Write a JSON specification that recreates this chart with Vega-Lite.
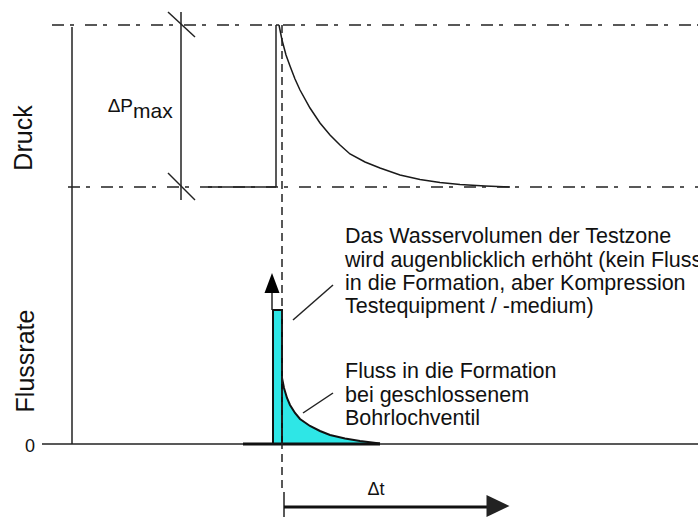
{
  "$schema": "https://vega.github.io/schema/vega-lite/v6.json",
  "width": 698,
  "height": 517,
  "padding": 0,
  "autosize": {"type": "none"},
  "background": "white",
  "config": {"view": {"stroke": null}},
  "datasets": {
    "solid": [
      {"x": 72, "y": 27, "x2": 72, "y2": 444},
      {"x": 42, "y": 444, "x2": 698, "y2": 444},
      {"x": 181, "y": 12, "x2": 181, "y2": 200},
      {"x": 168, "y": 12, "x2": 195, "y2": 37},
      {"x": 168, "y": 173, "x2": 195, "y2": 200},
      {"x": 208, "y": 187, "x2": 276, "y2": 187},
      {"x": 276, "y": 187, "x2": 276, "y2": 25},
      {"x": 276, "y": 25, "x2": 279, "y2": 25},
      {"x": 272, "y": 292, "x2": 272, "y2": 310},
      {"x": 293, "y": 320, "x2": 333, "y2": 285},
      {"x": 303, "y": 413, "x2": 333, "y2": 393},
      {"x": 284, "y": 492, "x2": 284, "y2": 517}
    ],
    "thick": [
      {"x": 243, "y": 444, "x2": 380, "y2": 444},
      {"x": 284, "y": 507, "x2": 490, "y2": 507}
    ],
    "dashdot": [
      {"x": 52, "y": 25, "x2": 698, "y2": 25},
      {"x": 68, "y": 187, "x2": 698, "y2": 187}
    ],
    "dashed": [
      {"x": 282, "y": 25, "x2": 282, "y2": 488}
    ],
    "pressure": [
      {"x": 279, "y": 25}, {"x": 282, "y": 40}, {"x": 286, "y": 55}, {"x": 290, "y": 66},
      {"x": 295, "y": 79}, {"x": 300, "y": 90}, {"x": 310, "y": 108}, {"x": 320, "y": 123},
      {"x": 330, "y": 135}, {"x": 340, "y": 145}, {"x": 350, "y": 154}, {"x": 365, "y": 162},
      {"x": 380, "y": 168}, {"x": 400, "y": 175}, {"x": 420, "y": 179.5}, {"x": 440, "y": 182.5},
      {"x": 460, "y": 184.5}, {"x": 485, "y": 186}, {"x": 510, "y": 187}
    ],
    "flow": [
      {"x": 282, "y": 378}, {"x": 284, "y": 388}, {"x": 287, "y": 398}, {"x": 290, "y": 405},
      {"x": 295, "y": 413}, {"x": 300, "y": 419}, {"x": 310, "y": 426}, {"x": 320, "y": 431},
      {"x": 330, "y": 435}, {"x": 345, "y": 438.5}, {"x": 360, "y": 441}, {"x": 380, "y": 443.5}
    ],
    "bar": [{"x": 273, "x2": 282, "y": 310, "y2": 444}],
    "arrowUp": [{"x": 272, "y": 283}],
    "arrowRight": [{"x": 498, "y": 506}],
    "notes": [
      {"x": 345, "y": 243, "text": "Das Wasservolumen der Testzone"},
      {"x": 345, "y": 266.5, "text": "wird augenblicklich erhöht (kein Fluss"},
      {"x": 345, "y": 290, "text": "in die Formation, aber Kompression"},
      {"x": 345, "y": 313, "text": "Testequipment / -medium)"},
      {"x": 345, "y": 378, "text": "Fluss in die Formation"},
      {"x": 345, "y": 402, "text": "bei geschlossenem"},
      {"x": 345, "y": 425, "text": "Bohrlochventil"}
    ],
    "axisTitles": [
      {"x": 24, "y": 138, "text": "Druck"},
      {"x": 26, "y": 361, "text": "Flussrate"}
    ],
    "small": [
      {"x": 30, "y": 452, "text": "0"},
      {"x": 376, "y": 495, "text": "Δt"}
    ],
    "dp": [{"x": 133, "y": 112, "text": "ΔP"}],
    "max": [{"x": 133, "y": 118, "text": "max"}]
  },
  "encoding": {
    "x": {"field": "x", "type": "quantitative", "scale": {"domain": [0, 698], "nice": false, "zero": false}, "axis": null},
    "y": {"field": "y", "type": "quantitative", "scale": {"domain": [0, 517], "reverse": true, "nice": false, "zero": false}, "axis": null}
  },
  "layer": [
    {
      "data": {"name": "flow"},
      "mark": {"type": "area", "color": "#2ee6e6", "opacity": 1},
      "encoding": {"y2": {"datum": 444}}
    },
    {
      "data": {"name": "bar"},
      "mark": {"type": "rect", "fill": "#2ee6e6", "stroke": "#111111", "strokeWidth": 2},
      "encoding": {"x2": {"field": "x2"}, "y2": {"field": "y2"}}
    },
    {
      "data": {"name": "flow"},
      "mark": {"type": "line", "color": "#111111", "strokeWidth": 2},
      "encoding": {}
    },
    {
      "data": {"name": "pressure"},
      "mark": {"type": "line", "color": "#1a1a1a", "strokeWidth": 1.5},
      "encoding": {}
    },
    {
      "data": {"name": "solid"},
      "mark": {"type": "rule", "color": "#222222", "strokeWidth": 1.5},
      "encoding": {"x2": {"field": "x2"}, "y2": {"field": "y2"}}
    },
    {
      "data": {"name": "thick"},
      "mark": {"type": "rule", "color": "#111111", "strokeWidth": 3},
      "encoding": {"x2": {"field": "x2"}, "y2": {"field": "y2"}}
    },
    {
      "data": {"name": "dashdot"},
      "mark": {"type": "rule", "color": "#222222", "strokeWidth": 1.5, "strokeDash": [12, 6, 4, 11]},
      "encoding": {"x2": {"field": "x2"}, "y2": {"field": "y2"}}
    },
    {
      "data": {"name": "dashed"},
      "mark": {"type": "rule", "color": "#222222", "strokeWidth": 1.5, "strokeDash": [8, 5]},
      "encoding": {"x2": {"field": "x2"}, "y2": {"field": "y2"}}
    },
    {
      "data": {"name": "arrowUp"},
      "mark": {"type": "point", "shape": "M-0.75,1L0,-1L0.75,1Z", "size": 400, "filled": true, "color": "#000000", "opacity": 1}
    },
    {
      "data": {"name": "arrowRight"},
      "mark": {"type": "point", "shape": "M-1,-0.95L1,0L-1,0.95Z", "size": 529, "filled": true, "color": "#222222", "opacity": 1}
    },
    {
      "data": {"name": "notes"},
      "mark": {"type": "text", "font": "Liberation Sans", "fontSize": 21.5, "align": "left", "baseline": "alphabetic", "color": "#111111"},
      "encoding": {"text": {"field": "text"}}
    },
    {
      "data": {"name": "axisTitles"},
      "mark": {"type": "text", "font": "Liberation Sans", "fontSize": 25, "angle": 270, "align": "center", "baseline": "middle", "color": "#111111"},
      "encoding": {"text": {"field": "text"}}
    },
    {
      "data": {"name": "small"},
      "mark": {"type": "text", "font": "Liberation Sans", "fontSize": 18, "align": "center", "baseline": "alphabetic", "color": "#111111"},
      "encoding": {"text": {"field": "text"}}
    },
    {
      "data": {"name": "dp"},
      "mark": {"type": "text", "font": "Liberation Sans", "fontSize": 19, "align": "right", "baseline": "alphabetic", "color": "#111111"},
      "encoding": {"text": {"field": "text"}}
    },
    {
      "data": {"name": "max"},
      "mark": {"type": "text", "font": "Liberation Sans", "fontSize": 21, "align": "left", "baseline": "alphabetic", "color": "#111111"},
      "encoding": {"text": {"field": "text"}}
    }
  ]
}
